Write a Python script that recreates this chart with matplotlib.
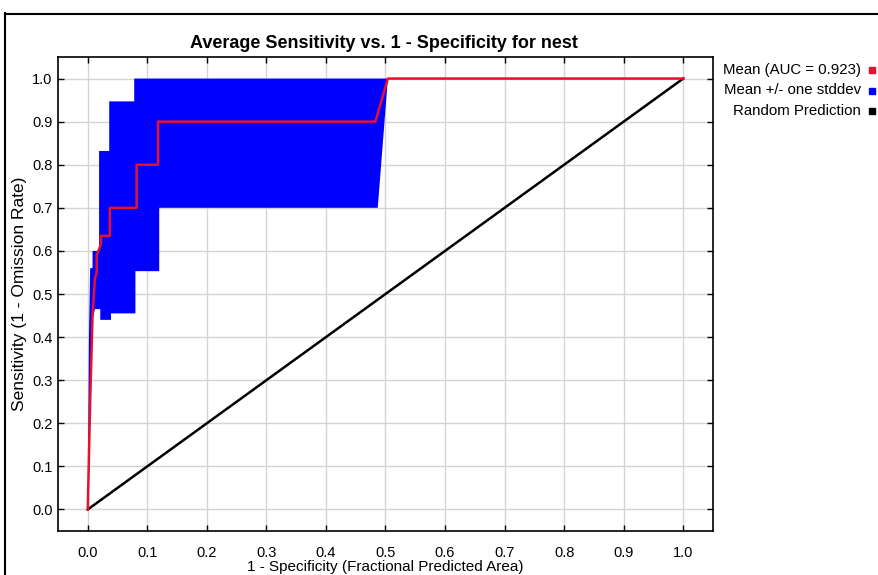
import matplotlib
matplotlib.use("Agg")
import matplotlib.pyplot as plt
from matplotlib.lines import Line2D

# ---------------- data ----------------
mean_x = [0.0, 0.004, 0.008, 0.012, 0.015, 0.015, 0.022, 0.022, 0.037, 0.037,
          0.082, 0.082, 0.118, 0.118, 0.483, 0.504, 1.0]
mean_y = [0.0, 0.25, 0.45, 0.535, 0.55, 0.59, 0.615, 0.635, 0.635, 0.70,
          0.70, 0.80, 0.80, 0.90, 0.90, 1.0, 1.0]

upper_x = [0.0, 0.002, 0.004, 0.008, 0.008, 0.019, 0.019, 0.036, 0.036, 0.078, 0.078, 1.0]
upper_y = [0.0, 0.40, 0.56, 0.56, 0.60, 0.60, 0.832, 0.832, 0.947, 0.947, 1.0, 1.0]

lower_x = [0.0, 0.004, 0.008, 0.012, 0.021, 0.021, 0.039, 0.039, 0.080, 0.080,
           0.120, 0.120, 0.487, 0.504, 1.0]
lower_y = [0.0, 0.22, 0.44, 0.465, 0.465, 0.44, 0.44, 0.455, 0.455, 0.553,
           0.553, 0.70, 0.70, 1.0, 1.0]

random_x = [0.0, 1.0]
random_y = [0.0, 1.0]

ticks = [0.0, 0.1, 0.2, 0.3, 0.4, 0.5, 0.6, 0.7, 0.8, 0.9, 1.0]
tick_labels = ["0.0", "0.1", "0.2", "0.3", "0.4", "0.5", "0.6", "0.7", "0.8", "0.9", "1.0"]

title = "Average Sensitivity vs. 1 - Specificity for nest"
xlabel = "1 - Specificity (Fractional Predicted Area)"
ylabel = "Sensitivity (1 - Omission Rate)"
legend_labels = ["Mean (AUC = 0.923)", "Mean +/- one stddev", "Random Prediction"]
legend_colors = ["#e8102a", "#0000ff", "#000000"]

plt.rcParams["font.family"] = ["Liberation Sans", "DejaVu Sans"]

W, H = 879, 575
fig = plt.figure(figsize=(W / 100, H / 100), dpi=100)
fig.patch.set_facecolor("white")

def fx(px):
    return px / W

def fy(py):
    return 1 - py / H

ax = fig.add_axes([fx(58), fy(531), fx(713) - fx(58), fy(57) - fy(531)])
ax.set_xlim(-0.05, 1.05)
ax.set_ylim(-0.05, 1.05)

ax.set_xticks(ticks)
ax.set_yticks(ticks)
ax.set_xticklabels(tick_labels, fontsize=10.5)
ax.set_yticklabels(tick_labels, fontsize=10.5)
ax.tick_params(direction="in", length=4, width=1, top=True, right=True,
               colors="black")
ax.tick_params(axis="x", pad=11)
ax.tick_params(axis="y", pad=4)
ax.grid(True, color="#d4d4d4", linewidth=1)
ax.set_axisbelow(True)
for s in ax.spines.values():
    s.set_linewidth(1.2)
    s.set_color("black")

# band
poly_x = list(upper_x) + list(reversed(lower_x))
poly_y = list(upper_y) + list(reversed(lower_y))
ax.fill(poly_x, poly_y, color="#0000ff", linewidth=0, zorder=2)
ax.plot(random_x, random_y, color="black", linewidth=1.8, zorder=3)
ax.plot(mean_x, mean_y, color=legend_colors[0], linewidth=1.8, zorder=4)

fig.text(fx(384), fy(44), title, ha="center", va="center",
         fontsize=13, fontweight="bold")
fig.text(fx(385.5), fy(567), xlabel, ha="center", va="center", fontsize=11)
fig.text(fx(20), fy(294), ylabel, ha="center", va="center", rotation=90,
         fontsize=12.5)

# legend (manual)
for i, (lab, col) in enumerate(zip(legend_labels, legend_colors)):
    y = 70 + i * 20.5
    fig.text(fx(861), fy(y), lab, ha="right", va="center", fontsize=10.8)
    fig.add_artist(Line2D([fx(872)], [fy(y)], marker="s", markersize=4.5,
                          color=col, linestyle="none", transform=fig.transFigure))

# outer frame
fig.add_artist(Line2D([fx(5.5), fx(5.5)], [fy(13), fy(575)], color="black",
                      linewidth=1.5, transform=fig.transFigure))
fig.add_artist(Line2D([fx(5), fx(879)], [fy(13.5), fy(13.5)], color="black",
                      linewidth=1.5, transform=fig.transFigure))

fig.savefig("out.png", dpi=100, facecolor="white")
